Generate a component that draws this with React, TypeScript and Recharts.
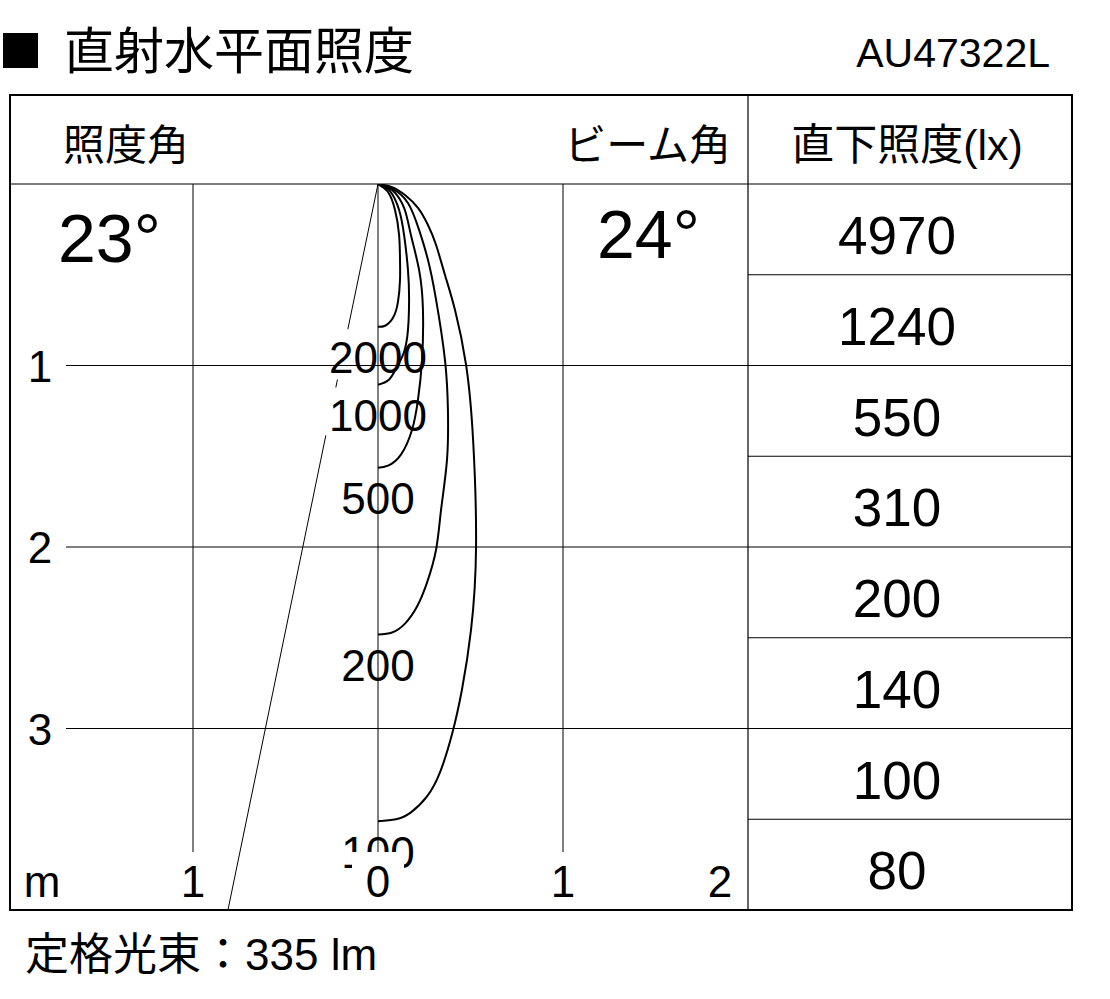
import { LineChart, Line, XAxis, YAxis, CartesianGrid, ReferenceDot } from 'recharts'

const NUM_FONT = "'Liberation Sans', Arial, sans-serif"
const JP_FONT = "'Liberation Sans', 'Noto Sans CJK JP', sans-serif"

type Pt = { x: number; y: number | null }

// isolux curves in metres: x = sideways from the fitting, y = distance below it
const lux2000: Pt[] = [
  { x: 0, y: 0 }, { x: 0.054, y: 0.044 }, { x: 0.092, y: 0.143 }, { x: 0.114, y: 0.281 },
  { x: 0.119, y: 0.418 }, { x: 0.119, y: 0.528 }, { x: 0.108, y: 0.649 }, { x: 0.081, y: 0.737 },
  { x: 0.038, y: 0.781 }, { x: 0, y: 0.787 },
]
const lux1000: Pt[] = [
  { x: 0, y: 0 }, { x: 0.065, y: 0.039 }, { x: 0.114, y: 0.143 }, { x: 0.141, y: 0.281 },
  { x: 0.162, y: 0.473 }, { x: 0.168, y: 0.638 }, { x: 0.162, y: 0.804 }, { x: 0.141, y: 0.925 },
  { x: 0.103, y: 1.007 }, { x: 0.059, y: 1.079 }, { x: 0, y: 1.106 },
]
const lux500: Pt[] = [
  { x: 0, y: 0 }, { x: 0.076, y: 0.033 }, { x: 0.141, y: 0.132 }, { x: 0.178, y: 0.281 },
  { x: 0.222, y: 0.473 }, { x: 0.243, y: 0.693 }, { x: 0.238, y: 0.969 }, { x: 0.216, y: 1.189 },
  { x: 0.184, y: 1.354 }, { x: 0.124, y: 1.491 }, { x: 0.054, y: 1.552 }, { x: 0, y: 1.563 },
]
const lux200: Pt[] = [
  { x: 0, y: 0 }, { x: 0.081, y: 0.028 }, { x: 0.162, y: 0.105 }, { x: 0.222, y: 0.253 },
  { x: 0.27, y: 0.418 }, { x: 0.314, y: 0.638 }, { x: 0.362, y: 0.969 }, { x: 0.378, y: 1.244 },
  { x: 0.373, y: 1.519 }, { x: 0.341, y: 1.794 }, { x: 0.314, y: 2.014 }, { x: 0.265, y: 2.196 },
  { x: 0.211, y: 2.328 }, { x: 0.146, y: 2.422 }, { x: 0.076, y: 2.471 }, { x: 0, y: 2.482 },
]
const lux100: Pt[] = [
  { x: 0, y: 0 }, { x: 0.076, y: 0.017 }, { x: 0.146, y: 0.061 }, { x: 0.216, y: 0.132 },
  { x: 0.27, y: 0.226 }, { x: 0.314, y: 0.336 }, { x: 0.362, y: 0.501 }, { x: 0.416, y: 0.693 },
  { x: 0.476, y: 0.996 }, { x: 0.514, y: 1.409 }, { x: 0.53, y: 1.998 }, { x: 0.503, y: 2.455 },
  { x: 0.454, y: 2.785 }, { x: 0.4, y: 3.032 }, { x: 0.335, y: 3.242 }, { x: 0.265, y: 3.374 },
  { x: 0.178, y: 3.462 }, { x: 0.097, y: 3.5 }, { x: 0, y: 3.511 },
]

const luxLevels = [2000, 1000, 500, 200, 100]
const luxCurves = [lux2000, lux1000, lux500, lux200, lux100]

// edge of the 23° spread (half angle), broken behind the level labels
const beamEdge: Pt[] = [
  { x: 0, y: 0 }, { x: -0.163, y: 0.8 }, { x: -0.19, y: null },
  { x: -0.219, y: 1.077 }, { x: -0.228, y: 1.121 }, { x: -0.25, y: null },
  { x: -0.282, y: 1.385 }, { x: -0.811, y: 4 },
]

const xTicks = [-2, -1, 0, 1, 2]
const yTicks = [0, 1, 2, 3, 4]

const distances = [0.5, 1, 1.5, 2, 2.5, 3, 3.5, 4]
const centreLux = [4970, 1240, 550, 310, 200, 140, 100, 80]

const PLOT_LEFT = 8
const PLOT_TOP = 184
const PLOT_BOTTOM = 910
const PX_PER_M = (PLOT_BOTTOM - PLOT_TOP) / 4

function XTick(props: any) {
  const { x, payload } = props
  const v = payload.value as number
  const label = v === -2 ? 'm' : String(Math.abs(v))
  const dx = v === -2 ? 34 : v === 2 ? -28 : 0
  const y = PLOT_BOTTOM
  return (
    <g>
      <rect x={x + dx - 26} y={y - 58} width={52} height={58} fill="#fff" />
      <text x={x + dx} y={y - 13} textAnchor="middle" fontSize={44} fontFamily={NUM_FONT} fill="#000">
        {label}
      </text>
    </g>
  )
}

function YTick(props: any) {
  const { y, payload } = props
  const v = payload.value as number
  if (v === 0 || v === 4) return <g />
  const x = PLOT_LEFT
  return (
    <g>
      <rect x={x - 4} y={y - 22} width={62} height={44} fill="#fff" />
      <text x={x + 32} y={y + 16} textAnchor="middle" fontSize={44} fontFamily={NUM_FONT} fill="#000">
        {v}
      </text>
    </g>
  )
}

export default function App() {
  return (
    <div style={{ position: 'absolute', left: 0, top: 0, width: 1110, height: 999, background: '#fff' }}>
      <div style={{ position: 'absolute', left: 0, top: 0 }}>
        <LineChart
          width={1110}
          height={999}
          margin={{ top: PLOT_TOP, right: 362, bottom: 999 - PLOT_BOTTOM - 1, left: PLOT_LEFT - 1 }}
        >
          <CartesianGrid stroke="#000" strokeWidth={1} verticalValues={[-1, 0, 1]} horizontalValues={[1, 2, 3]} />
          <Line data={beamEdge} dataKey="y" type="linear" stroke="#000" strokeWidth={1} dot={false} isAnimationActive={false} />
          {luxCurves.map((c, i) => (
            <Line
              key={luxLevels[i]}
              data={c}
              dataKey="y"
              type="natural"
              stroke="#000"
              strokeWidth={2}
              dot={false}
              isAnimationActive={false}
            />
          ))}
          {luxCurves.map((c, i) => (
            <ReferenceDot
              key={'l' + luxLevels[i]}
              x={0}
              y={(c[c.length - 1].y as number) + 0.17}
              r={0}
              fill="none"
              stroke="none"
              label={{ value: String(luxLevels[i]), position: 'center', fontSize: 44, fontFamily: NUM_FONT, fill: '#000' }}
            />
          ))}
          <XAxis
            type="number"
            dataKey="x"
            domain={[-2, 2]}
            ticks={xTicks}
            interval={0}
            height={1}
            axisLine={false}
            tickLine={false}
            tickSize={0}
            tickMargin={0}
            tick={XTick}
            allowDataOverflow
          />
          <YAxis
            type="number"
            domain={[0, 4]}
            reversed
            ticks={yTicks}
            interval={0}
            width={1}
            axisLine={false}
            tickLine={false}
            tickSize={0}
            tickMargin={0}
            tick={YTick}
            allowDataOverflow
          />
        </LineChart>
      </div>
      <svg width={1110} height={999} style={{ position: 'absolute', left: 0, top: 0, pointerEvents: 'none' }}>
        <rect x={3} y={33} width={35} height={35} fill="#000" />
        <text x={64} y={69} fontSize={50} fontFamily={JP_FONT} fill="#000">直射水平面照度</text>
        <text x={1050} y={67} textAnchor="end" fontSize={41} fontFamily={NUM_FONT} fill="#000">AU47322L</text>

        <rect x={10} y={95} width={1062} height={815} fill="none" stroke="#000" strokeWidth={2} />
        <line x1={10} x2={1072} y1={PLOT_TOP} y2={PLOT_TOP} stroke="#000" strokeWidth={1.2} />
        <line x1={748} x2={748} y1={95} y2={PLOT_BOTTOM} stroke="#000" strokeWidth={1.2} />

        <text x={63} y={160} fontSize={42} fontFamily={JP_FONT} fill="#000">照度角</text>
        <text x={731} y={160} textAnchor="end" fontSize={42} fontFamily={JP_FONT} fill="#000">ビーム角</text>
        <text x={907} y={160} textAnchor="middle" fontSize={43} fontFamily={JP_FONT} fill="#000">直下照度(lx)</text>

        <text x={58} y={262} fontSize={68} fontFamily={NUM_FONT} fill="#000">23°</text>
        <text x={597} y={258} fontSize={68} fontFamily={NUM_FONT} fill="#000">24°</text>

        {distances.map((d, i) => {
          const rowTop = PLOT_TOP + (d - 0.5) * PX_PER_M
          return (
            <g key={d}>
              {i > 0 && <line x1={748} x2={1072} y1={rowTop} y2={rowTop} stroke="#000" strokeWidth={1.2} />}
              <text x={897} y={rowTop + 70} textAnchor="middle" fontSize={53} fontFamily={NUM_FONT} fill="#000">
                {centreLux[i]}
              </text>
            </g>
          )
        })}

        <text x={25} y={970} fontSize={44} fontFamily={JP_FONT} fill="#000">定格光束：335 lm</text>
      </svg>
    </div>
  )
}
